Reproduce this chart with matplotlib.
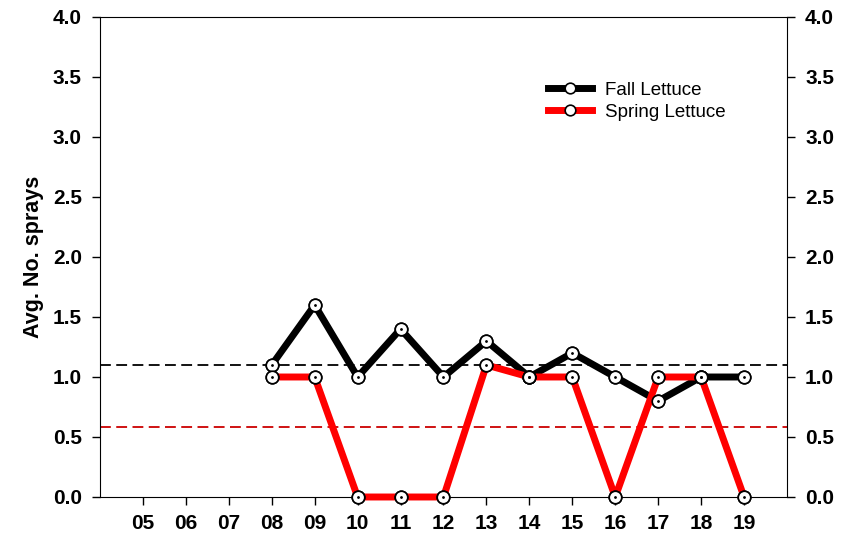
import matplotlib
matplotlib.use("Agg")
from matplotlib import pyplot as plt

plt.rcParams['font.family'] = ['Liberation Sans', 'DejaVu Sans']

years = ["05", "06", "07", "08", "09", "10", "11", "12", "13", "14", "15", "16", "17", "18", "19"]
data_years = [8, 9, 10, 11, 12, 13, 14, 15, 16, 17, 18, 19]
fall = [1.1, 1.6, 1.0, 1.4, 1.0, 1.3, 1.0, 1.2, 1.0, 0.8, 1.0, 1.0]
spring = [1.0, 1.0, 0.0, 0.0, 0.0, 1.1, 1.0, 1.0, 0.0, 1.0, 1.0, 0.0]
fall_mean = 1.1
spring_mean = 0.585
yticks = [0.0, 0.5, 1.0, 1.5, 2.0, 2.5, 3.0, 3.5, 4.0]

fig = plt.figure(figsize=(8.54, 5.34), dpi=100)
ax = fig.add_axes([100/854, 37/534, 687/854, 480/534])

ax.axhline(fall_mean, color="black", ls=(0, (6, 3)), lw=1.3, zorder=1)
ax.axhline(spring_mean, color="#cc0000", ls=(0, (6, 3)), lw=1.3, zorder=1)

mk = dict(marker="o", markersize=9, markerfacecolor="white", markeredgecolor="black", markeredgewidth=1.2)
ax.plot(data_years, fall, color="black", lw=5, label="Fall Lettuce", zorder=2, clip_on=False, **mk)
ax.plot(data_years, spring, color="#ff0000", lw=5, label="Spring Lettuce", zorder=3, clip_on=False, **mk)
# markers on top with a centre dot
ax.plot(data_years, fall, ls="none", zorder=4, clip_on=False, **mk)
ax.plot(data_years, spring, ls="none", zorder=4, clip_on=False, **mk)
ax.plot(data_years + data_years, fall + spring, ls="none", marker="o", markersize=1.0,
        color="black", zorder=5, clip_on=False)

ax.set_xlim(4, 20)
ax.set_ylim(0, 4)
ax.set_xticks(range(5, 20))
ax.set_xticklabels(years)
ax.set_yticks(yticks)
ax.set_yticklabels([f"{v:.1f}" for v in yticks])
ax.tick_params(direction="out", length=6, width=1, labelsize=15)
ax.tick_params(axis="y", right=True, labelright=True, pad=7)
ax.tick_params(axis="x", pad=6)
for lab in ax.get_xticklabels() + ax.get_yticklabels():
    lab.set_fontweight("bold")
for t in ax.yaxis.get_major_ticks():
    t.label2.set_fontweight("bold")
ax.set_ylabel("Avg. No. sprays", fontsize=15.5, fontweight="bold", labelpad=6)

leg = ax.legend(loc="upper left", bbox_to_anchor=(0.628, 0.9), frameon=False, fontsize=13.5,
                handlelength=2.35, handletextpad=0.65, labelspacing=0.25, markerscale=0.85)

fig.savefig("out.png", dpi=100)
